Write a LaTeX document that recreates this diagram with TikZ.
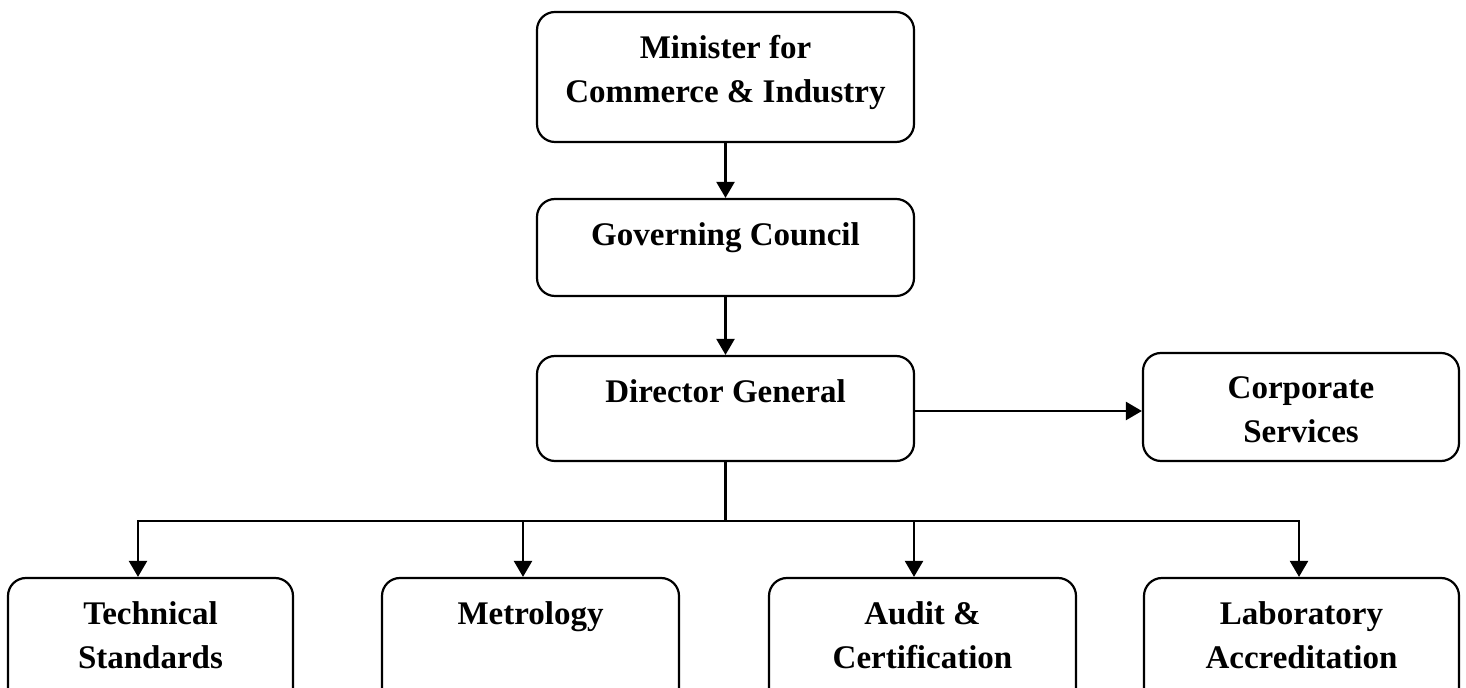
\documentclass[tikz,border=0pt]{standalone}
\usepackage{fontspec}
\setmainfont{Liberation Serif}
\usetikzlibrary{arrows.meta}

\tikzset{
	orgbox/.style={draw=black, line width=1.1pt, rounded corners=9pt, inner sep=0pt},
	orgtext/.style={anchor=north, yshift=-12pt, inner sep=0pt, align=center, font=\bfseries\fontsize{16.5}{22}\selectfont},
	link/.style={line width=1.2pt, -{Triangle[length=8pt,width=9pt]}},
	wire/.style={line width=1.2pt}
}

\begin{document}
\begin{tikzpicture}[x=0.5pt, y=-0.5pt]
		\clip (0,0) rectangle (1466,688);
		% top column
		\node[orgbox, minimum width=188.5pt, minimum height=65pt, label={[orgtext]north:{Minister for\\Commerce \& Industry}}] (min) at (725.5,77) {};
		\node[orgbox, minimum width=188.5pt, minimum height=48.5pt, label={[orgtext]north:{Governing Council}}] (gc) at (725.5,247.5) {};
		\node[orgbox, minimum width=188.5pt, minimum height=52.5pt, label={[orgtext]north:{Director General}}] (dg) at (725.5,408.5) {};
		\node[orgbox, minimum width=158pt, minimum height=54pt, label={[orgtext]north:{Corporate\\Services}}] (cs) at (1301,407) {};
		
		% bottom row
		\node[orgbox, minimum width=142.5pt, minimum height=66pt, label={[orgtext]north:{Technical\\Standards}}] (ts) at (150.5,644) {};
		\node[orgbox, minimum width=148.5pt, minimum height=66pt, label={[orgtext]north:{Metrology}}] (met) at (530.5,644) {};
		\node[orgbox, minimum width=153.5pt, minimum height=66pt, label={[orgtext]north:{Audit \&\\Certification}}] (ac) at (922.5,644) {};
		\node[orgbox, minimum width=157.5pt, minimum height=66pt, label={[orgtext]north:{Laboratory\\Accreditation}}] (la) at (1301.5,644) {};
		
		\coordinate (bus) at ([yshift=-29.5pt]dg.south);
		
		\draw[link] (min) -- (gc);
		\draw[link] (gc) -- (dg);
		\draw[link] ([yshift=-1.25pt]dg.east) -- ([yshift=-1.25pt]dg.east -| cs.west);
		
		\draw[wire] (dg.south) -- (bus);
		\draw[link] (bus) -| ([xshift=-6.25pt]ts.north);
		\draw[link] (bus) -| ([xshift=-1.25pt]la.north);
		\draw[link] ([xshift=-3.75pt]met.north |- bus) -- ([xshift=-3.75pt]met.north);
		\draw[link] ([xshift=-4.25pt]ac.north |- bus) -- ([xshift=-4.25pt]ac.north);
\end{tikzpicture}
\end{document}
